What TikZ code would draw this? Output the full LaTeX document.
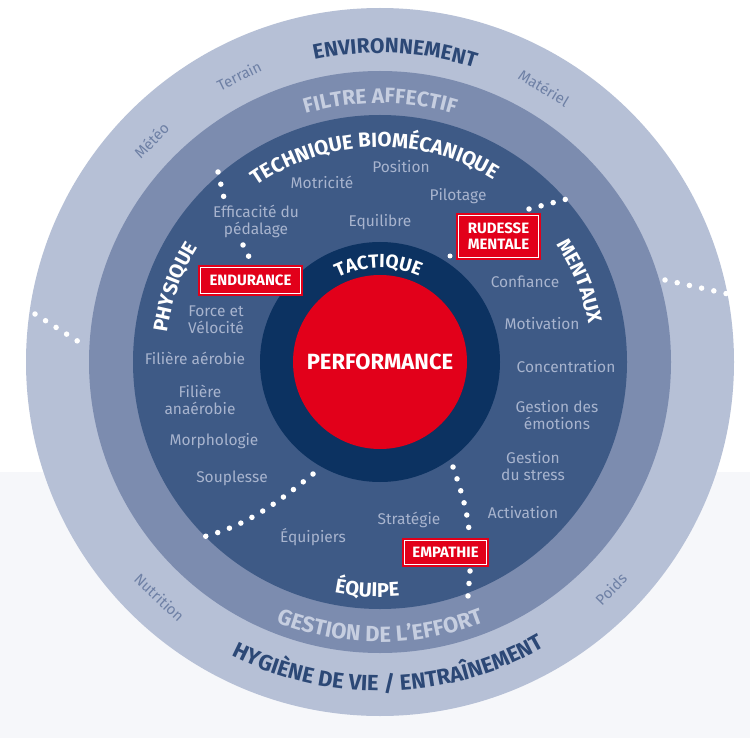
\documentclass[tikz,border=0pt]{standalone}
\usepackage{fontspec}
\setmainfont{Fira Sans}
\usetikzlibrary{decorations.text}

\definecolor{ringouter}{RGB}{182,192,214}
\definecolor{ringmid}{RGB}{124,140,175}
\definecolor{discblue}{RGB}{62,90,134}
\definecolor{tacticnavy}{RGB}{12,50,97}
\definecolor{perfred}{RGB}{226,0,26}
\definecolor{outerhead}{RGB}{44,72,118}
\definecolor{outerlabel}{RGB}{110,128,165}
\definecolor{midhead}{RGB}{198,206,224}
\definecolor{disclabel}{RGB}{168,180,206}
\definecolor{paleground}{RGB}{246,247,250}

% curved heading: #1 baseline radius, #2 start angle, #3 end angle,
% #4 colour, #5 font size, #6 text
\newcommand{\arclabel}[6]{%
  \path[decorate, decoration={text along path, text align=center,
      text={|\color{#4}\bfseries\fontsize{#5}{#5}\selectfont|#6}}]
    (C) ++({-(#2)}:#1) arc[start angle={-(#2)}, end angle={-(#3)}, radius=#1];}

\begin{document}
\begin{tikzpicture}[x=1pt, y=-1pt,
  item/.style={text=disclabel, font=\fontsize{15.5}{17}\selectfont, align=center, inner sep=0pt},
  itemone/.style={item, text height=11pt, text depth=0pt},
  ringitem/.style={text=outerlabel, font=\fontsize{15}{17}\selectfont, inner sep=0pt, text height=11pt, text depth=0pt},
  tagbox/.style={fill=perfred, draw=perfred, double=white, double distance=1pt, line width=1.7pt,
    text=white, font=\bfseries\fontsize{15}{16}\selectfont, align=center, inner sep=0pt},
  dotline/.style={white, line width=5.5pt, line cap=round, dash pattern=on 0pt off 12.5pt},
  dotmark/.style={circle, fill=white, inner sep=0pt, minimum size=5pt}]

\useasboundingbox (0,0) rectangle (750,738);
\fill[white] (0,0) rectangle (750,738);
\fill[paleground] (0,472) rectangle (750,738);

% concentric rings
\coordinate (C) at (380,362);
\fill[ringouter] (C) circle[radius=354];
\fill[ringmid] (C) circle[radius=291];
\fill[discblue] (C) circle[radius=247];
\fill[tacticnavy] (C) circle[radius=120];
\fill[perfred] (C) circle[radius=87];

% dotted dividers
\coordinate (tl1) at (218,172); \coordinate (tl2) at (224,198);
\coordinate (tl3) at (243,245); \coordinate (tl4) at (249,257);
\draw[dotline] (tl1) -- (tl2);
\draw[dotline] (tl3) -- (tl4);
\coordinate (tr1) at (529,209); \coordinate (tr2) at (567,199);
\draw[dotline] (tr1) -- (tr2);
\node[dotmark] (trdot) at (450,256) {};
\coordinate (or1) at (665,280); \coordinate (or2) at (728,294);
\draw[dotline] (or1) -- (or2);
\coordinate (ol1) at (35,314); \coordinate (ol2) at (79,342);
\draw[dotline] (ol1) -- (ol2);
\coordinate (bl1) at (313,474); \coordinate (bl2) at (203,537);
\draw[dotline] (bl1) .. controls (275,505) and (245,526) .. (bl2);
\coordinate (br1) at (453,467); \coordinate (br2) at (469,530);
\coordinate (br3) at (470,571); \coordinate (br4) at (468,596);
\draw[dotline] (br1) .. controls (461,490) and (467,510) .. (br2);
\draw[dotline] (br3) -- (br4);

% curved headings
\arclabel{309}{127.2}{47.2}{outerhead}{21}{ENVIRONNEMENT}
\arclabel{259}{130}{50}{midhead}{21}{FILTRE AFFECTIF}
\arclabel{215}{141.5}{41.5}{white}{20.5}{TECHNIQUE BIOMÉCANIQUE}
\arclabel{94}{151}{31}{white}{19}{TACTIQUE}
\arclabel{215}{190}{130}{white}{20}{PHYSIQUE}
\arclabel{212}{52}{-8}{white}{20}{MENTAUX}
\arclabel{235}{236.8}{296.8}{white}{20}{ÉQUIPE}
\arclabel{280}{225}{315}{midhead}{22}{GESTION DE L'EFFORT}
\arclabel{329}{226.6}{316.6}{outerhead}{22}{HYGIÈNE DE VIE / ENTRAÎNEMENT}

% outer ring items
\node[ringitem, rotate=26.2] (terrain) at ([shift={(-116.2:319)}]C) {Terrain};
\node[ringitem, rotate=-30.9] (materiel) at ([shift={(-59.1:319)}]C) {Matériel};
\node[ringitem, rotate=45.9] (meteo) at ([shift={(-135.9:318)}]C) {Météo};
\node[ringitem, rotate=-43.1] (nutrition) at ([shift={(-226.9:323)}]C) {Nutrition};
\node[ringitem, rotate=45.5] (poids) at ([shift={(-315.5:324)}]C) {Poids};

% centre
\node[text=white, font=\bfseries\fontsize{22}{22}\selectfont] (perf) at (C) {PERFORMANCE};

% inner disc items
\node[itemone] (position) at (401,167) {Position};
\node[itemone] (motricite) at (322,183) {Motricité};
\node[itemone] (pilotage) at (458,195) {Pilotage};
\node[item] (pedalage) at (256,221) {Efficacité du\\pédalage};
\node[itemone] (equilibre) at (380,221) {Equilibre};
\node[itemone] (confiance) at (525,282) {Confiance};
\node[item] (force) at (216,320) {Force et\\Vélocité};
\node[itemone] (motivation) at (542,324) {Motivation};
\node[itemone] (aerobie) at (195,359) {Filière aérobie};
\node[itemone] (concentration) at (566,367) {Concentration};
\node[item] (anaerobie) at (200,400) {Filière\\anaérobie};
\node[item] (emotions) at (557,415) {Gestion des\\émotions};
\node[itemone] (morpho) at (214,440) {Morphologie};
\node[item] (stress) at (533,466) {Gestion\\du stress};
\node[itemone] (souplesse) at (232,477) {Souplesse};
\node[itemone] (activation) at (523,513) {Activation};
\node[itemone] (strategie) at (409,519) {Stratégie};
\node[itemone] (equipiers) at (313,537) {Équipiers};

% highlighted tags
\node[tagbox, minimum width=100.6pt, minimum height=26.6pt] (endurance) at (250.5,280.5) {ENDURANCE};
\node[tagbox, minimum width=80.6pt, minimum height=42.6pt] (rudesse) at (498.5,236.5) {RUDESSE\\MENTALE};
\node[tagbox, minimum width=82.6pt, minimum height=24.6pt] (empathie) at (445.5,552.5) {EMPATHIE};
\end{tikzpicture}
\end{document}
